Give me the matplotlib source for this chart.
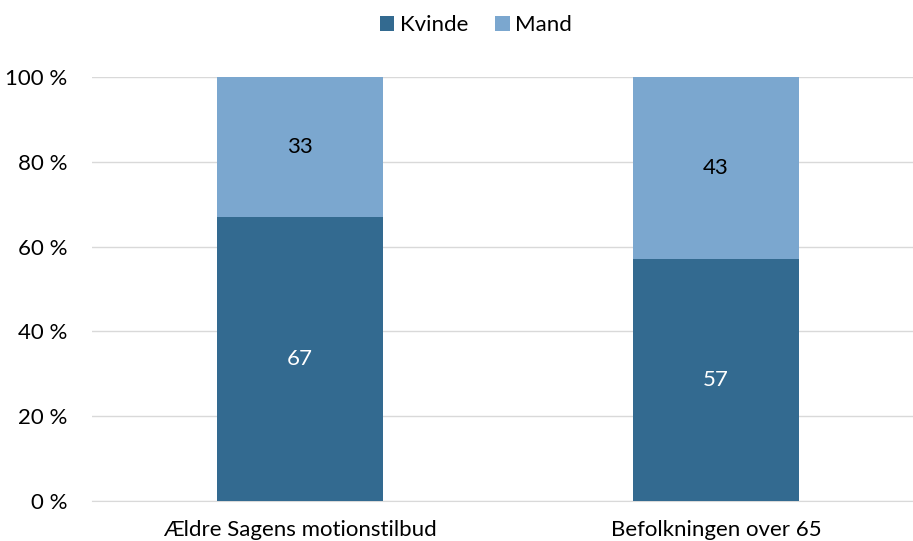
import numpy as np
import matplotlib.pyplot as plt

categories = ['Ældre Sagens motionstilbud', 'Befolkningen over 65']
kvinde = [67, 57]
mand = [33, 43]

dark = '#336a90'
light = '#7ba7cf'

plt.rcParams['font.family'] = ['Lato', 'DejaVu Sans']
fs = 16

fig = plt.figure(figsize=(9.13, 5.41), dpi=100)
ax = fig.add_axes([92 / 913, 40 / 541, 832 / 913, 424 / 541])

x = np.arange(len(categories))
b1 = ax.bar(x, kvinde, width=0.4, color=dark, label='Kvinde', zorder=3)
b2 = ax.bar(x, mand, width=0.4, bottom=kvinde, color=light, label='Mand', zorder=3)

for i in range(len(x)):
    ax.text(x[i], kvinde[i] / 2, str(kvinde[i]), ha='center', va='center',
            color='white', fontsize=fs)
    ax.text(x[i], kvinde[i] + mand[i] / 2, str(mand[i]), ha='center', va='center',
            color='black', fontsize=fs)

ax.set_xlim(-0.5, 1.5)
ax.set_ylim(0, 100)
ax.set_yticks(range(0, 101, 20))
ax.set_yticklabels([f'{v} %' for v in range(0, 101, 20)], fontsize=fs)
ax.set_xticks(x)
ax.set_xticklabels(categories, fontsize=fs)
ax.tick_params(axis='y', length=0, pad=18)
ax.tick_params(axis='x', length=0, pad=14)
ax.yaxis.grid(True, color='#d9d9d9', linewidth=1, zorder=0)
for s in ['top', 'right', 'left']:
    ax.spines[s].set_visible(False)
ax.spines['bottom'].set_color('#d9d9d9')

fig.legend(handles=[b1, b2], loc='center', bbox_to_anchor=(476 / 913, 1 - 25 / 541),
           ncol=2, frameon=False, fontsize=fs, handlelength=0.65, handleheight=0.65,
           handletextpad=0.25, columnspacing=1.2)

fig.savefig('out.png', dpi=100)
